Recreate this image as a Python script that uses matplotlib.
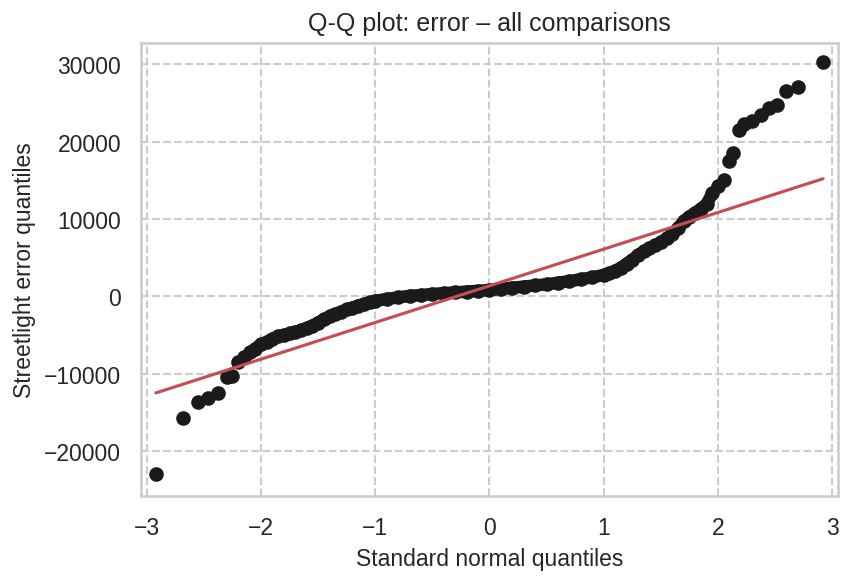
import matplotlib
matplotlib.use("Agg")
import matplotlib.pyplot as plt
import seaborn as sns

# theoretical quantile, sample quantile
qx = [-2.92, -2.68, -2.55, -2.46, -2.38, -2.30, -2.25, -2.20, -2.15, -2.10,
      -2.05, -2.00, -1.95, -1.90, -1.85, -1.80, -1.75, -1.70, -1.65, -1.60,
      -1.55, -1.50, -1.45, -1.40, -1.35, -1.30, -1.25, -1.20, -1.15, -1.10,
      -1.05, -1.00, -0.90, -0.80, -0.70, -0.60, -0.50, -0.40, -0.30, -0.20,
      -0.10, 0.00, 0.10, 0.20, 0.30, 0.40, 0.50, 0.60, 0.70, 0.80,
      0.90, 1.00, 1.05, 1.10, 1.15, 1.20, 1.25, 1.30, 1.35, 1.40,
      1.45, 1.50, 1.55, 1.60, 1.65, 1.70, 1.75, 1.80, 1.85, 1.90,
      1.95, 2.00, 2.05, 2.10, 2.13, 2.18, 2.23, 2.30, 2.38, 2.45,
      2.52, 2.60, 2.70, 2.92]
qy = [-23000, -15700, -13700, -13200, -12500, -10500, -10300, -8500, -7800, -7200,
      -6800, -6200, -5900, -5500, -5200, -5000, -4800, -4600, -4400, -4100,
      -3800, -3400, -3000, -2600, -2300, -2000, -1700, -1500, -1200, -1000,
      -800, -600, -350, -150, 50, 150, 300, 400, 500, 600,
      700, 800, 950, 1100, 1250, 1400, 1550, 1750, 1950, 2200,
      2450, 2750, 3000, 3300, 3700, 4200, 4700, 5300, 5800, 6200,
      6600, 7000, 7500, 8000, 8800, 9700, 10300, 10800, 11300, 11900,
      13300, 14200, 15000, 17500, 18500, 21500, 22300, 22700, 23500, 24300,
      24700, 26500, 27000, 30300]

# fitted reference line
fit_x = [-2.92, 2.92]
fit_y = [-12500, 15200]

sns.set_theme(style="whitegrid")
plt.rcParams['font.family'] = ['Liberation Sans', 'DejaVu Sans']
fig, ax = plt.subplots(figsize=(5.7, 3.873), dpi=150)

mid = [i for i, x in enumerate(qx) if -2.05 <= x <= 1.95]
ax.plot([qx[i] for i in mid], [qy[i] for i in mid], color="#1a1a1a", lw=6,
        solid_capstyle="round", zorder=2)
ax.plot(qx, qy, "o", color="#1a1a1a", ms=6, zorder=3)
ax.plot(fit_x, fit_y, color="#c44e52", lw=1.5, zorder=4)

ax.set_xlim(-3.05, 3.05)
ax.set_ylim(-25800, 32800)
ax.set_xticks([-3, -2, -1, 0, 1, 2, 3])
ax.set_yticks([-20000, -10000, 0, 10000, 20000, 30000])
ax.grid(True, linestyle="--", color="#cccccc")
for s in ax.spines.values():
    s.set_color("#cccccc")
ax.tick_params(labelsize=11)
ax.set_title("Q-Q plot: error \u2013 all comparisons", fontsize=12)
ax.set_xlabel("Standard normal quantiles", fontsize=11)
ax.set_ylabel("Streetlight error quantiles", fontsize=11)
fig.subplots_adjust(left=0.165, right=0.98, top=0.925, bottom=0.145)
fig.savefig("out.png")
